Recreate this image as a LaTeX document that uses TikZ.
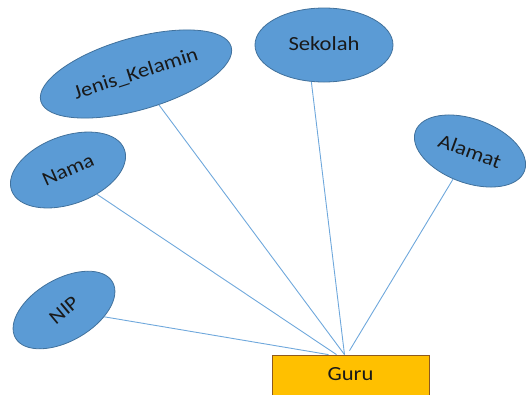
\documentclass[tikz,border=0pt]{standalone}
\usepackage{fontspec}
\setmainfont{Carlito}[FakeStretch=1.13]
\usetikzlibrary{shapes.geometric}
\definecolor{attrfill}{HTML}{5B9BD5}
\definecolor{attrline}{HTML}{41719C}
\definecolor{linkblue}{HTML}{6FA8DC}
\definecolor{entfill}{HTML}{FFC000}
\definecolor{entline}{HTML}{8E5A1E}
\tikzset{
  attr/.style={ellipse, draw=attrline, fill=attrfill, line width=0.8pt,
    inner sep=0pt, font=\fontsize{20}{22}\selectfont, text=black!90},
  entity/.style={rectangle, draw=entline, fill=entfill, line width=0.8pt,
    minimum width=157pt, minimum height=50pt, text height=14pt, text depth=13pt,
    inner sep=0pt, font=\fontsize{20}{22}\selectfont, text=black!90},
  link/.style={draw=linkblue, line width=0.9pt}
}
\begin{document}
\begin{tikzpicture}[x=1pt, y=-1pt]
\useasboundingbox (0,0) rectangle (526,394);
% entity
\node[entity] (guru) at (350.5,380) {Guru};
% attributes
\node[attr, minimum width=138pt, minimum height=74pt] (sekolah) at (324,45) {\raisebox{3pt}{Sekolah}};
\node[attr, minimum width=116pt, minimum height=64pt, rotate=-20] (alamat) at (470,151) {Alamat};
\node[attr, minimum width=198pt, minimum height=72pt, rotate=16] (jenis) at (136,74) {\rotatebox{2}{Jenis\_Kelamin}};
\node[attr, minimum width=120pt, minimum height=68pt, rotate=20] (nama) at (68,170) {\rotatebox{4}{Nama}};
\node[attr, minimum width=112pt, minimum height=62pt, rotate=30] (nip) at (64,310) {\rotatebox{10}{NIP}};
% connectors
\draw[link] (nip) -- ([xshift=-22pt]guru.north);
\draw[link] (nama.-60) -- ([xshift=-14pt]guru.north);
\draw[link] (jenis) -- ([xshift=-6pt]guru.north);
\draw[link] (sekolah.251) -- ([xshift=-6pt]guru.north);
\draw[link] (alamat) -- ([xshift=-1pt,yshift=4pt]guru.north);
\end{tikzpicture}
\end{document}
